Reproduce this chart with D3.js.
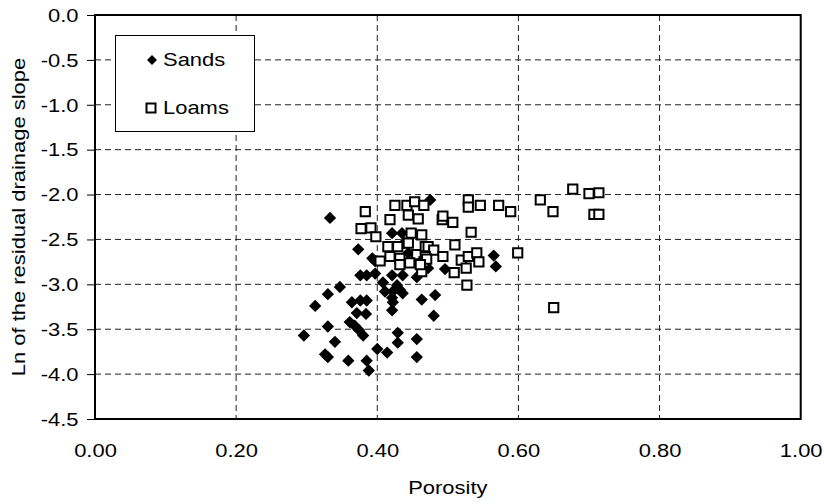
<!DOCTYPE html>
<html>
<head>
<meta charset="utf-8">
<script src="https://cdn.jsdelivr.net/npm/d3@7"></script>
<style>
  html, body { margin: 0; padding: 0; background: #fff; }
  text { font-family: "Liberation Sans", Arial, sans-serif; fill: #000; }
</style>
</head>
<body>
<div id="chart"></div>
<script>
// porosity / ln(slope) pairs
const sandsPorosity = [0.333,0.373,0.393,0.397,0.421,0.435,0.475,0.565,0.568,0.376,
  0.385,0.397,0.421,0.436,0.408,0.411,0.428,0.432,0.436,0.422,
  0.421,0.422,0.421,0.463,0.482,0.480,0.347,0.330,0.312,0.364,
  0.376,0.385,0.371,0.384,0.361,0.368,0.374,0.330,0.296,0.340,
  0.380,0.400,0.414,0.429,0.429,0.456,0.456,0.330,0.359,0.385,
  0.388,0.456,0.472,0.496,0.444,0.326,0.438,0.449];
const sandsSlope = [-2.26,-2.61,-2.71,-2.74,-2.43,-2.43,-2.06,-2.68,-2.80,-2.90,
  -2.90,-2.88,-2.90,-2.90,-2.98,-3.08,-3.01,-3.06,-3.10,-3.08,
  -3.15,-3.20,-3.29,-3.17,-3.12,-3.35,-3.03,-3.11,-3.24,-3.20,
  -3.18,-3.18,-3.32,-3.33,-3.42,-3.46,-3.51,-3.47,-3.57,-3.64,
  -3.57,-3.72,-3.76,-3.54,-3.65,-3.61,-3.81,-3.81,-3.85,-3.85,
  -3.96,-2.92,-2.82,-2.83,-2.65,-3.78,-2.54,-2.75];
const loamsPorosity = [0.383,0.377,0.391,0.398,0.425,0.442,0.453,0.466,0.418,0.444,
  0.458,0.448,0.463,0.415,0.429,0.444,0.418,0.432,0.456,0.466,
  0.468,0.492,0.507,0.493,0.529,0.529,0.546,0.572,0.533,0.510,
  0.472,0.480,0.493,0.519,0.529,0.541,0.468,0.589,0.631,0.649,
  0.526,0.509,0.544,0.599,0.527,0.463,0.446,0.470,0.677,0.700,
  0.714,0.707,0.714,0.650,0.404,0.432,0.461];
const loamsSlope = [-2.19,-2.38,-2.37,-2.47,-2.12,-2.12,-2.08,-2.12,-2.28,-2.23,
  -2.27,-2.43,-2.45,-2.58,-2.58,-2.54,-2.69,-2.71,-2.67,-2.75,
  -2.58,-2.28,-2.31,-2.24,-2.06,-2.14,-2.12,-2.12,-2.42,-2.56,
  -2.58,-2.62,-2.69,-2.73,-2.69,-2.65,-2.69,-2.19,-2.06,-2.19,
  -2.82,-2.87,-2.75,-2.65,-3.01,-2.86,-2.76,-2.72,-1.94,-1.99,
  -1.98,-2.22,-2.22,-3.26,-2.74,-2.78,-2.78];
const seriesNames = ["Sands", "Loams"];
const xTicks = [0, 0.2, 0.4, 0.6, 0.8, 1.0];
const yTicks = [0, -0.5, -1.0, -1.5, -2.0, -2.5, -3.0, -3.5, -4.0, -4.5];
const xTitle = "Porosity";
const yTitle = "Ln of the residual drainage slope";

const width = 824, height = 504;
const plot = { left: 95, right: 800.7, top: 15, bottom: 419 };
const fontSize = "18px";
const stretch = 1.22; // glyphs in the picture are wider than plain Arial

const svg = d3.select("#chart").append("svg")
  .attr("width", width).attr("height", height);

const xScale = d3.scaleLinear().domain([0, 1]).range([plot.left, plot.right]);
const yScale = d3.scaleLinear().domain([0, -4.5]).range([plot.top, plot.bottom]);

// dashed grid
svg.append("g").selectAll("line")
  .data(xTicks.filter(d => d > 0 && d < 1))
  .enter().append("line")
  .attr("x1", d => xScale(d)).attr("x2", d => xScale(d))
  .attr("y1", plot.top).attr("y2", plot.bottom)
  .attr("stroke", "#222").attr("stroke-width", 1).attr("stroke-dasharray", "6,4");
svg.append("g").selectAll("line")
  .data(yTicks.filter(d => d < 0 && d > -4.5))
  .enter().append("line")
  .attr("x1", plot.left).attr("x2", plot.right)
  .attr("y1", d => yScale(d)).attr("y2", d => yScale(d))
  .attr("stroke", "#222").attr("stroke-width", 1).attr("stroke-dasharray", "6,4");

// axes
const yAxis = d3.axisLeft(yScale).tickValues(yTicks).tickSize(8)
  .tickFormat(d => d.toFixed(1));
const yg = svg.append("g").attr("transform", `translate(${plot.left},0)`).call(yAxis);
yg.select(".domain").remove();
yg.selectAll("line").attr("stroke", "#000");
yg.selectAll("text")
  .attr("x", -16.5 / stretch).attr("dy", "0.35em")
  .attr("transform", `scale(${stretch},1)`)
  .style("font-size", fontSize);

const xAxis = d3.axisBottom(xScale).tickValues(xTicks).tickSize(0)
  .tickFormat(d => d.toFixed(2));
const xg = svg.append("g").attr("transform", `translate(0,${plot.bottom})`).call(xAxis);
xg.select(".domain").remove();
xg.selectAll("text")
  .attr("y", 38).attr("dy", 0).attr("x", 0)
  .attr("transform", `scale(${stretch},1)`)
  .style("font-size", fontSize);

// frame
svg.append("rect")
  .attr("x", plot.left).attr("y", plot.top)
  .attr("width", plot.right - plot.left).attr("height", plot.bottom - plot.top)
  .attr("fill", "none").attr("stroke", "#000").attr("stroke-width", 2);

// markers
const diamond = d3.symbol(d3.symbolSquare, 76);
const square = d3.symbol(d3.symbolSquare, 85);

const sands = sandsPorosity.map((p, i) => ({ p, s: sandsSlope[i] }));
const loams = loamsPorosity.map((p, i) => ({ p, s: loamsSlope[i] }));

svg.append("g").selectAll("path")
  .data(sands).enter().append("path")
  .attr("d", diamond)
  .attr("transform", d => `translate(${xScale(d.p)},${yScale(d.s)}) rotate(45)`)
  .attr("fill", "#000");

svg.append("g").selectAll("path")
  .data(loams).enter().append("path")
  .attr("d", square)
  .attr("transform", d => `translate(${xScale(d.p)},${yScale(d.s)})`)
  .attr("fill", "#fff").attr("stroke", "#000").attr("stroke-width", 2);

// legend
const legend = svg.append("g");
legend.append("rect")
  .attr("x", 115.5).attr("y", 35.5).attr("width", 139).attr("height", 96)
  .attr("fill", "#fff").attr("stroke", "#000").attr("stroke-width", 1);
legend.append("path")
  .attr("d", d3.symbol(d3.symbolSquare, 50))
  .attr("transform", "translate(152,60) rotate(45)")
  .attr("fill", "#000");
legend.append("path")
  .attr("d", d3.symbol(d3.symbolSquare, 81))
  .attr("transform", "translate(151,108)")
  .attr("fill", "#fff").attr("stroke", "#000").attr("stroke-width", 2);
legend.selectAll("text.lbl")
  .data(seriesNames).enter().append("text")
  .attr("class", "lbl")
  .attr("transform", (d, i) => `translate(163,${66 + i * 48}) scale(${stretch},1)`)
  .style("font-size", fontSize)
  .text(d => d);

// axis titles
svg.append("text")
  .attr("transform", `translate(${(plot.left + plot.right) / 2},494) scale(${stretch},1)`)
  .attr("text-anchor", "middle")
  .style("font-size", fontSize)
  .text(xTitle);
svg.append("text")
  .attr("transform", `translate(25,${(plot.top + plot.bottom) / 2}) rotate(-90) scale(${stretch},1)`)
  .attr("text-anchor", "middle")
  .style("font-size", fontSize)
  .text(yTitle);
</script>
</body>
</html>
